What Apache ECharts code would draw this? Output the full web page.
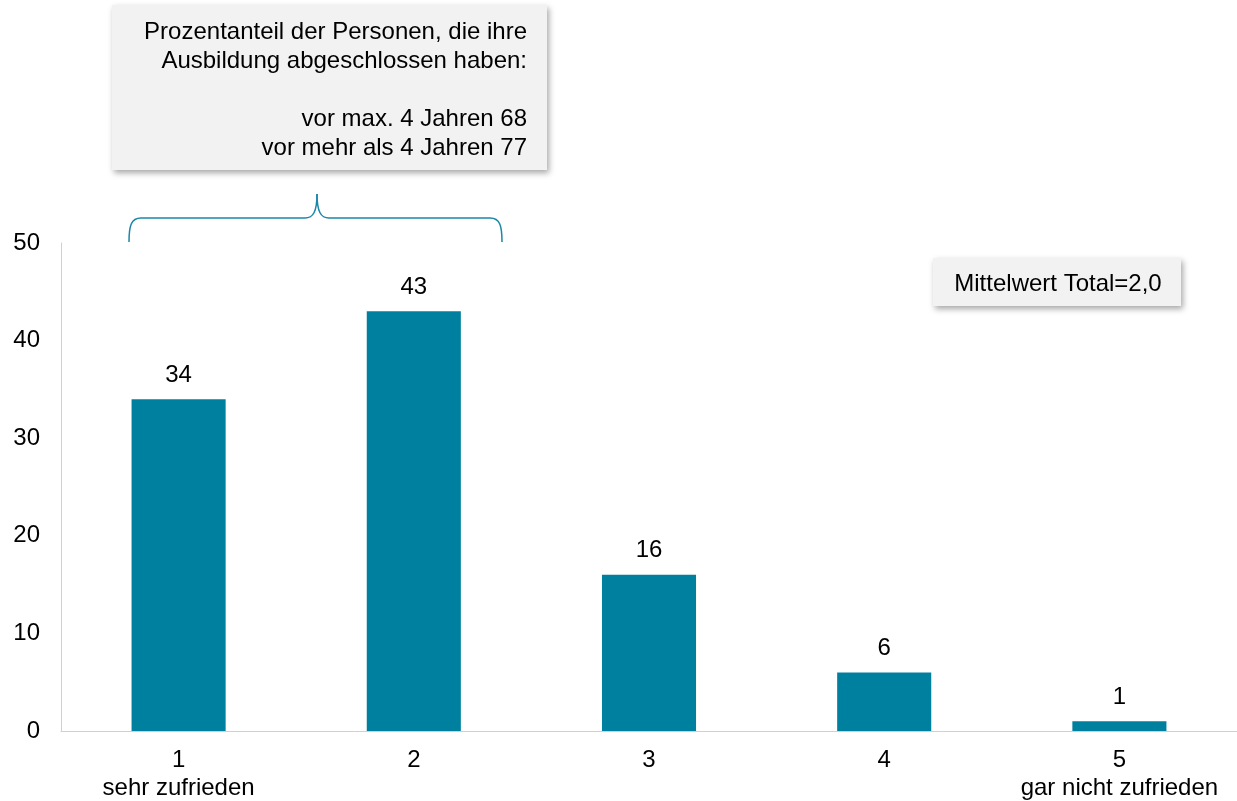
<!DOCTYPE html>
<html>
<head>
<meta charset="utf-8">
<script src="https://cdn.jsdelivr.net/npm/echarts@6/dist/echarts.min.js"></script>
<style>
html,body{margin:0;padding:0;background:#fff;}
#chart{width:1237px;height:801px;}
</style>
</head>
<body>
<div id="chart"></div>
<script>
var categories = ['1\nsehr zufrieden', '2', '3', '4', '5\ngar nicht zufrieden'];
var values = [34, 43, 16, 6, 1];
var yTicks = [0, 10, 20, 30, 40, 50];
var noteLines = ['Prozentanteil der Personen, die ihre', 'Ausbildung abgeschlossen haben:', '', 'vor max. 4 Jahren 68', 'vor mehr als 4 Jahren 77'];
var meanText = 'Mittelwert Total=2,0';

var FONT = 'Liberation Sans, Arial, sans-serif';
var BRACE = {stroke: '#1a86a8', lineWidth: 1.5, fill: null};
function curve(x1, y1, cx1, cy1, cx2, cy2, x2, y2) {
  return {type: 'bezierCurve', shape: {x1: x1, y1: y1, cpx1: cx1, cpy1: cy1, cpx2: cx2, cpy2: cy2, x2: x2, y2: y2}, style: BRACE, z: 10};
}
function seg(x1, y1, x2, y2) {
  return {type: 'line', shape: {x1: x1, y1: y1, x2: x2, y2: y2}, style: BRACE, z: 10};
}
var chart = echarts.init(document.getElementById('chart'), null, {renderer: 'canvas'});
chart.setOption({
  animation: false,
  backgroundColor: '#ffffff',
  grid: {left: 61, right: 0, top: 243, bottom: 70, containLabel: false, outerBoundsMode: 'none'},
  xAxis: {
    type: 'category',
    data: categories,
    axisLine: {show: true, lineStyle: {color: '#d0d0d0', width: 1}},
    axisTick: {show: false},
    axisLabel: {interval: 0, hideOverlap: false, color: '#000', fontFamily: FONT, fontSize: 24, lineHeight: 28, margin: 15}
  },
  yAxis: {
    type: 'value',
    min: yTicks[0],
    max: yTicks[yTicks.length - 1],
    interval: 10,
    axisLine: {show: true, lineStyle: {color: '#d0d0d0', width: 1}},
    axisTick: {show: false},
    splitLine: {show: false},
    axisLabel: {color: '#000', fontFamily: FONT, fontSize: 24, margin: 21}
  },
  series: [{
    type: 'bar',
    data: values,
    barWidth: '40%',
    itemStyle: {color: '#00809f'},
    label: {show: true, position: 'top', distance: 12, color: '#000', fontFamily: FONT, fontSize: 24}
  }],
  graphic: [
    {
      type: 'rect',
      shape: {x: 112, y: 5, width: 435, height: 165},
      style: {fill: '#f2f2f2', shadowBlur: 6, shadowOffsetX: 2, shadowOffsetY: 3, shadowColor: 'rgba(0,0,0,0.35)'},
      z: 10
    },
    {
      type: 'text',
      x: 527, y: 17.5,
      style: {text: noteLines.join('\n'), fill: '#000', font: '24px ' + FONT, textAlign: 'right', lineHeight: 29},
      z: 11
    },
    curve(129, 242, 129, 226, 131, 218, 141, 218),
    seg(141, 218, 305, 218),
    curve(305, 218, 313, 218, 317, 212, 317, 194),
    curve(317, 194, 317, 212, 321, 218, 329, 218),
    seg(329, 218, 490, 218),
    curve(490, 218, 500, 218, 502, 226, 502, 242),
    {
      type: 'rect',
      shape: {x: 933, y: 258, width: 248, height: 48},
      style: {fill: '#f2f2f2', shadowBlur: 6, shadowOffsetX: 2, shadowOffsetY: 3, shadowColor: 'rgba(0,0,0,0.35)'},
      z: 10
    },
    {
      type: 'text',
      x: 1058, y: 284.5,
      style: {text: meanText, fill: '#000', font: '24px ' + FONT, textAlign: 'center', textVerticalAlign: 'middle'},
      z: 11
    }
  ]
});
</script>
</body>
</html>
